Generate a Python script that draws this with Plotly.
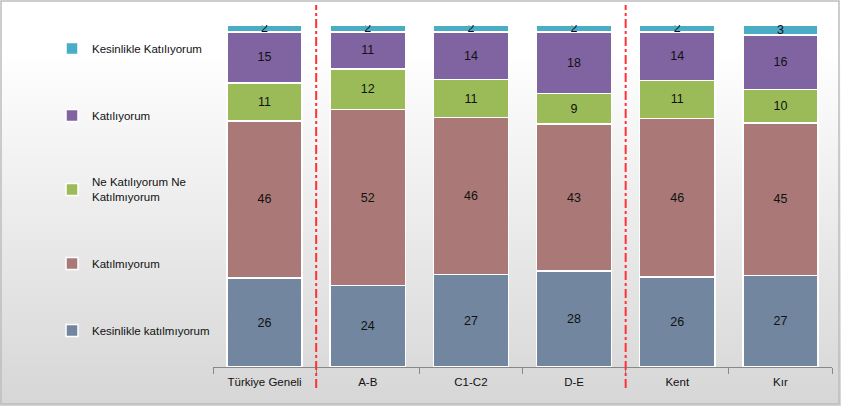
import base64
import plotly.graph_objects as go

categories = ["Türkiye Geneli", "A-B", "C1-C2", "D-E", "Kent", "Kır"]
series_names = ["Kesinlikle katılmıyorum", "Katılmıyorum",
                "Ne Katılıyorum Ne<br>Katılmıyorum", "Katılıyorum",
                "Kesinlikle Katılıyorum"]
kesinlikle_katilmiyorum = [26, 24, 27, 28, 26, 27]
katilmiyorum = [46, 52, 46, 43, 46, 45]
ne_ne = [11, 12, 11, 9, 11, 10]
katiliyorum = [15, 11, 14, 18, 14, 16]
kesinlikle_katiliyorum = [2, 2, 2, 2, 2, 3]
colors = ["#72869F", "#AA7977", "#9BBB59", "#8064A2", "#4BACC6"]
series_values = [kesinlikle_katilmiyorum, katilmiyorum, ne_ne, katiliyorum,
                 kesinlikle_katiliyorum]

W, H = 841, 406
ML, MR, MT, MB = 213, 9, 25, 39
PW, PH = W - ML - MR, H - MT - MB

fig = go.Figure()
n = len(series_names)
for i, (name, vals, col) in enumerate(zip(series_names, series_values, colors)):
    fig.add_trace(go.Bar(
        x=categories, y=vals, name=name, legendgroup=str(i),
        legendrank=100 + (n - i),
        marker=dict(color=col, line=dict(color="white", width=1.5)),
        text=[str(v) for v in vals], textposition="inside",
        insidetextanchor="middle", textangle=0, constraintext="none",
        textfont=dict(family="Liberation Sans", size=12.5, color="#111111"),
        hoverinfo="skip",
    ))

svg = ('<svg xmlns="http://www.w3.org/2000/svg" width="841" height="406">'
       '<defs><linearGradient id="g" x1="0" y1="0" x2="0" y2="1">'
       '<stop offset="0" stop-color="#FFFFFF"/><stop offset="0.12" stop-color="#FFFFFF"/>'
       '<stop offset="1" stop-color="#D6D6D6"/></linearGradient></defs>'
       '<rect width="841" height="406" fill="url(#g)"/></svg>')
src = "data:image/svg+xml;base64," + base64.b64encode(svg.encode()).decode()

def px2x(px):
    return (px - ML) / PW

def py2y(py):
    return (H - MB - py) / PH

fig.add_layout_image(dict(source=src, xref="paper", yref="paper",
                          x=px2x(0), y=py2y(0), sizex=W / PW, sizey=H / PH,
                          xanchor="left", yanchor="top", sizing="stretch",
                          layer="below"))

shapes = [
    dict(type="rect", xref="paper", yref="paper", x0=px2x(1), x1=px2x(W - 2),
         y0=py2y(1), y1=py2y(H - 2), line=dict(color="#BDBDBD", width=1.5),
         fillcolor="rgba(0,0,0,0)", layer="above"),
]
for xv in [0.5, 3.5]:
    shapes.append(dict(type="line", xref="x", yref="paper", x0=xv, x1=xv,
                       y0=py2y(388), y1=py2y(5),
                       line=dict(color="#FF3333", width=2, dash="dashdot")))

fig.update_layout(
    width=W, height=H, barmode="stack", barnorm="percent", bargap=0.27,
    margin=dict(l=ML, r=MR, t=MT, b=MB),
    paper_bgcolor="white", plot_bgcolor="rgba(0,0,0,0)",
    font=dict(family="Liberation Sans", size=11, color="#111111"),
    showlegend=True,
    legend=dict(x=px2x(52), y=py2y(34), xanchor="left", yanchor="top",
                traceorder="grouped", tracegroupgap=48,
                bgcolor="rgba(0,0,0,0)", itemwidth=30,
                font=dict(family="Liberation Sans", size=11.5, color="#111111")),
    xaxis=dict(showline=True, linecolor="#888888", linewidth=1,
               ticks="outside", tickson="boundaries", ticklen=6,
               tickcolor="#888888", showgrid=False, ticklabelstandoff=4,
               tickfont=dict(family="Liberation Sans", size=11.5, color="#111111")),
    yaxis=dict(visible=False, range=[0, 100]),
    shapes=shapes,
)

fig.write_html("out.html")
